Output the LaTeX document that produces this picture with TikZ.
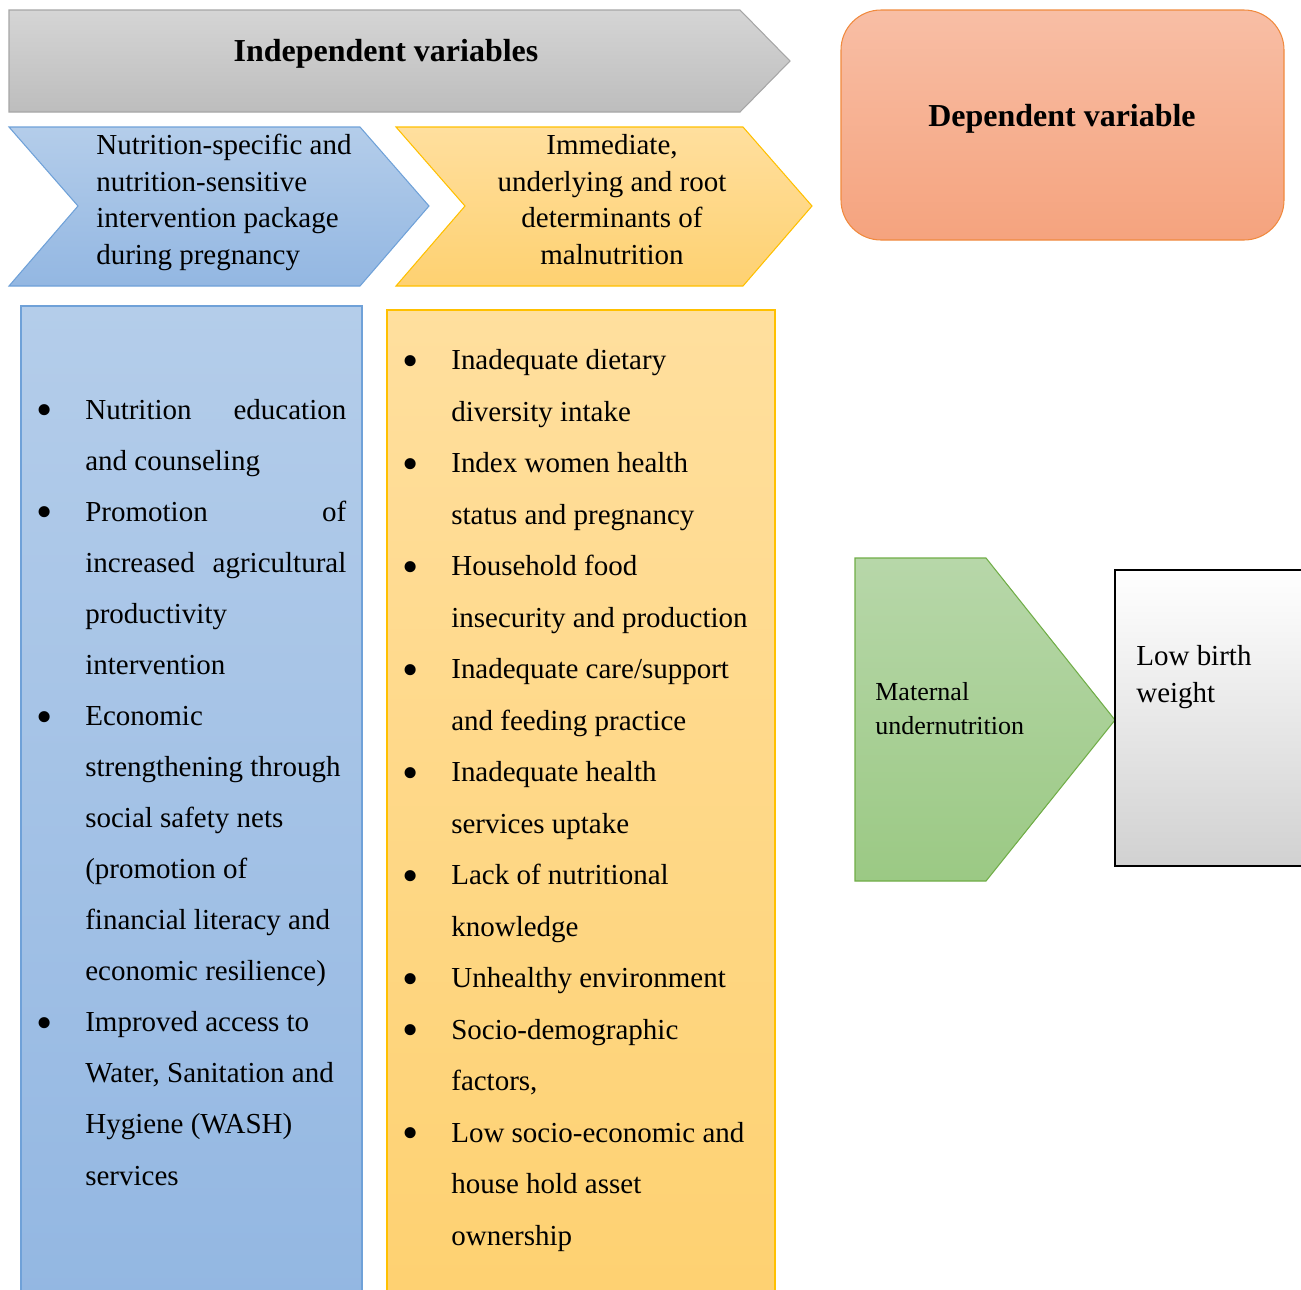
\documentclass[tikz,border=0pt]{standalone}
\usepackage{fontspec}
\usepackage{graphicx}
\setmainfont{Liberation Serif}
\usetikzlibrary{positioning}

\definecolor{greytop}{HTML}{D5D5D5}
\definecolor{greybot}{HTML}{BDBDBD}
\definecolor{greyline}{HTML}{A6A6A6}
\definecolor{bluetop}{HTML}{B4CDEA}
\definecolor{bluebot}{HTML}{93B7E2}
\definecolor{blueline}{HTML}{6FA1D8}
\definecolor{yellowtop}{HTML}{FFDF9E}
\definecolor{yellowbot}{HTML}{FED171}
\definecolor{yellowline}{HTML}{FFC000}
\definecolor{orangetop}{HTML}{F8BEA5}
\definecolor{orangebot}{HTML}{F5A37E}
\definecolor{orangeline}{HTML}{F08A3E}
\definecolor{greentop}{HTML}{B7D7A9}
\definecolor{greenbot}{HTML}{9BC984}
\definecolor{greenline}{HTML}{70AD47}

\newcommand{\itembul}{\makebox[0.92cm][l]{\hspace*{-0.06cm}\raisebox{-0.22em}{\scalebox{1.6}{\textbullet}}}}
\newcommand{\itemind}{\hspace*{0.92cm}}
\newcommand{\jline}[2]{\makebox[5.22cm]{#1\hfill #2}}

\begin{document}
\begin{tikzpicture}[
    x=0.02cm, y=-0.02cm,
    greyfill/.style={top color=greytop, bottom color=greybot, draw=greyline, line width=0.6pt},
    bluefill/.style={top color=bluetop, bottom color=bluebot, draw=blueline, line width=0.6pt},
    yellowfill/.style={top color=yellowtop, bottom color=yellowbot, draw=yellowline, line width=0.6pt},
    orangefill/.style={top color=orangetop, bottom color=orangebot, draw=orangeline, line width=0.6pt, rounded corners=0.8cm},
    greenfill/.style={top color=greentop, bottom color=greenbot, draw=greenline, line width=0.6pt},
    lbwfill/.style={top color=white, middle color=white, bottom color=black!18, draw=black, line width=1.5pt},
    titletext/.style={font=\bfseries\fontsize{18.2}{22}\selectfont, inner sep=0, anchor=base},
    headtext/.style={font=\fontsize{16.5}{20.7}\selectfont, inner sep=0, anchor=base west, align=left},
    listtext/.style={font=\fontsize{16.5}{#1}\selectfont, inner sep=0, anchor=base west, align=left},
]
\clip (0,0) rectangle (1301,1289);

% Shapes
\path [greyfill] (9,10) -- (740,10) -- (790,61) -- (740,112) -- (9,112) -- cycle;
\path [bluefill] (9,127) -- (360,127) -- (429,206) -- (360,286) -- (9,286) -- (78,206) -- cycle;
\path [yellowfill] (396,127) -- (743,127) -- (812,206) -- (743,286) -- (396,286) -- (465,206) -- cycle;
\path [orangefill] (841,10) rectangle (1284,240);
\path [bluefill] (21,306) rectangle (362,1300);
\path [yellowfill] (387,310) rectangle (775,1300);
\path [greenfill] (855,558) -- (986,558) -- (1115,720) -- (986,881) -- (855,881) -- cycle;
\path [lbwfill] (1115,570) rectangle (1320,866);

% Headings (multi-line nodes sit on their last baseline)
\node [titletext] (indep) at (386,61) {Independent variables};
\node [titletext] (dep) at (1062,126) {Dependent variable};
\node [headtext] (package) at (96,264) {Nutrition-specific and\\nutrition-sensitive\\intervention package\\during pregnancy};
\node [headtext, anchor=base, align=center] (determ) at (612,264) {Immediate,\\underlying and root\\determinants of\\malnutrition};

% Lists
\node [listtext=29.05pt] (interventions) at (39,1185) {%
\itembul\jline{Nutrition}{education}\\
\itemind and counseling\\
\itembul\jline{Promotion}{of}\\
\itemind\jline{increased}{agricultural}\\
\itemind productivity\\
\itemind intervention\\
\itembul Economic\\
\itemind strengthening through\\
\itemind social safety nets\\
\itemind (promotion of\\
\itemind financial literacy and\\
\itemind economic resilience)\\
\itembul Improved access to\\
\itemind Water, Sanitation and\\
\itemind Hygiene (WASH)\\
\itemind services};
\node [listtext=29.3pt] (determinants) at (405,1245) {%
\itembul Inadequate dietary\\
\itemind diversity intake\\
\itembul Index women health\\
\itemind status and pregnancy\\
\itembul Household food\\
\itemind insecurity and production\\
\itembul Inadequate care/support\\
\itemind and feeding practice\\
\itembul Inadequate health\\
\itemind services uptake\\
\itembul Lack of nutritional\\
\itemind knowledge\\
\itembul Unhealthy environment\\
\itembul Socio-demographic\\
\itemind factors,\\
\itembul Low socio-economic and\\
\itemind house hold asset\\
\itemind ownership};

% Outcomes
\node [listtext=19.3pt, font=\fontsize{14.8}{19.3}\selectfont] (maternal) at (875,734) {Maternal\\undernutrition};
\node [listtext=21pt] (lbw) at (1136,702) {Low birth\\weight};

\end{tikzpicture}
\end{document}
